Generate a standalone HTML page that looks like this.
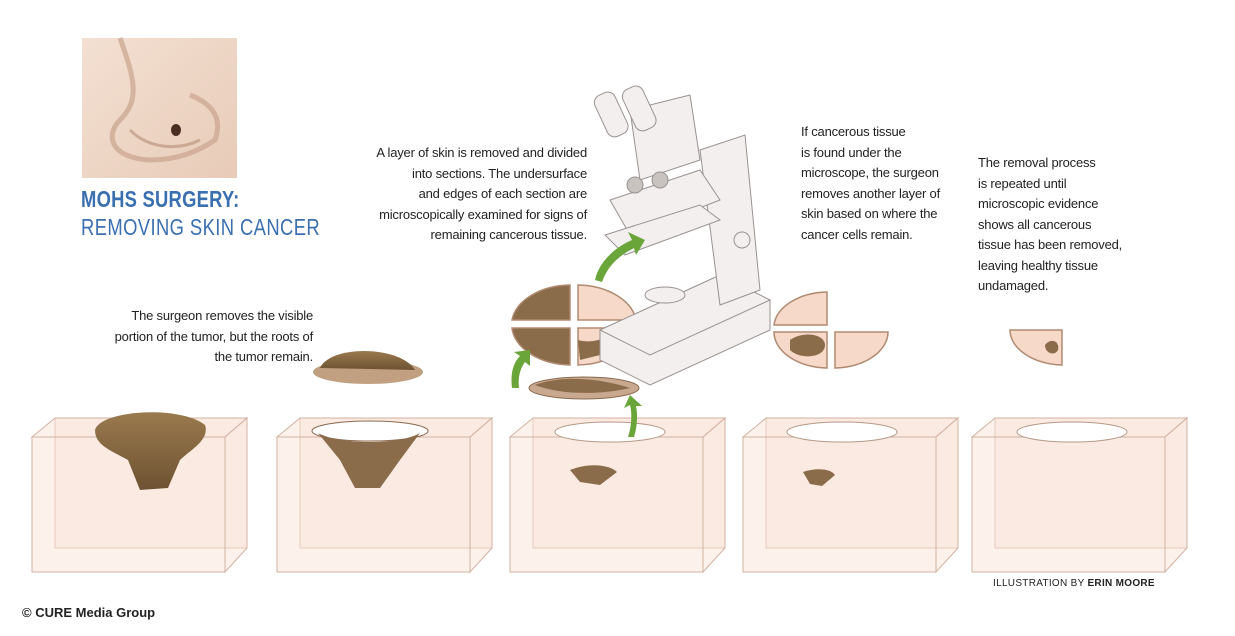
<!DOCTYPE html>
<html><head><meta charset="utf-8"><style>
body{margin:0;width:1235px;height:636px;background:#fff;position:relative;overflow:hidden;font-family:"Liberation Sans",sans-serif;}
.t{position:absolute;font-size:13px;line-height:20.5px;color:#222;letter-spacing:-0.2px;}
.r{text-align:right;}
</style></head><body>
<svg width="1235" height="636" style="position:absolute;left:0;top:0">
<defs>
<linearGradient id="nose" x1="0" y1="0" x2="1" y2="1"><stop offset="0" stop-color="#f3e0d2"/><stop offset="1" stop-color="#e8cbb8"/></linearGradient>
<linearGradient id="tum" x1="0" y1="0" x2="0" y2="1"><stop offset="0" stop-color="#9a7a4e"/><stop offset="1" stop-color="#6e5232"/></linearGradient>
</defs>
<rect x="82" y="38" width="155" height="140" fill="url(#nose)"/>
<path d="M120 38 C135 80 140 100 120 120 C105 135 110 158 150 160 C180 160 200 150 215 140 C222 120 215 105 190 95" fill="none" stroke="#c9a48d" stroke-width="5" opacity=".7"/>
<path d="M130 130 C150 150 180 150 200 140" fill="none" stroke="#b48c75" stroke-width="3" opacity=".6"/>
<ellipse cx="176" cy="130" rx="5" ry="6" fill="#4a2e22"/>
<g fill="#f9e4d8" fill-opacity=".5" stroke="#d2b2a2" stroke-width="1">
<g><polygon points="55,418 247,418 247,548 55,548"/><polygon points="32,437 225,437 247,418 55,418"/><polygon points="32,437 225,437 225,572 32,572"/><polygon points="225,437 247,418 247,548 225,572"/></g>
<g transform="translate(245,0)"><polygon points="55,418 247,418 247,548 55,548"/><polygon points="32,437 225,437 247,418 55,418"/><polygon points="32,437 225,437 225,572 32,572"/><polygon points="225,437 247,418 247,548 225,572"/></g>
<g transform="translate(478,0)"><polygon points="55,418 247,418 247,548 55,548"/><polygon points="32,437 225,437 247,418 55,418"/><polygon points="32,437 225,437 225,572 32,572"/><polygon points="225,437 247,418 247,548 225,572"/></g>
<g transform="translate(711,0)"><polygon points="55,418 247,418 247,548 55,548"/><polygon points="32,437 225,437 247,418 55,418"/><polygon points="32,437 225,437 225,572 32,572"/><polygon points="225,437 247,418 247,548 225,572"/></g>
<g transform="translate(940,0)"><polygon points="55,418 247,418 247,548 55,548"/><polygon points="32,437 225,437 247,418 55,418"/><polygon points="32,437 225,437 225,572 32,572"/><polygon points="225,437 247,418 247,548 225,572"/></g>
</g>
<path d="M95 430 C100 410 180 405 205 425 C210 440 190 450 180 460 L168 488 L140 490 L128 460 C110 450 95 445 95 430Z" fill="url(#tum)"/>
<ellipse cx="370" cy="431" rx="58" ry="10" fill="#fff" stroke="#8a6a50"/>
<path d="M318 433 C340 445 400 445 420 433 L400 460 L380 488 L355 488 L340 460Z" fill="#8a6c4a"/>
<ellipse cx="368" cy="372" rx="55" ry="12" fill="#c0a080"/>
<path d="M320 368 C330 345 400 345 415 370Z" fill="url(#tum)"/>
<ellipse cx="610" cy="432" rx="55" ry="10" fill="#fff" stroke="#b59a88"/>
<path d="M570 470 C590 462 610 465 617 472 L600 485 L580 482Z" fill="#8a6c4a"/>
<ellipse cx="842" cy="432" rx="55" ry="10" fill="#fff" stroke="#b59a88"/>
<path d="M803 472 C815 468 830 468 835 475 L822 486 L810 484Z" fill="#8a6c4a"/>
<ellipse cx="1072" cy="432" rx="55" ry="10" fill="#fff" stroke="#b59a88"/>
<ellipse cx="584" cy="388" rx="55" ry="11" fill="#c9a890" stroke="#8a6a50"/>
<path d="M535 385 C560 375 600 378 630 388 C600 395 560 395 535 385Z" fill="#8a6c4a"/>
<g stroke="#b08a70" stroke-width="1.5">
<path d="M570 285 A60 40 0 0 0 512 320 L570 320Z" fill="#8a6c4a"/>
<path d="M578 285 A60 40 0 0 1 636 320 L578 320Z" fill="#f6d9c9"/>
<path d="M512 328 A60 40 0 0 0 570 365 L570 328Z" fill="#8a6c4a"/>
<path d="M578 328 L578 365 A60 40 0 0 0 636 328Z" fill="#f6d9c9"/>
<path d="M578 340 C595 345 610 335 620 332 L600 355 L580 360Z" fill="#8a6c4a" stroke="none"/>
</g>
<g fill="#f2efee" stroke="#9a9290" stroke-width="1">
<polygon points="600,330 720,275 770,300 770,330 650,385 600,360"/>
<polygon points="600,330 720,275 770,300 650,355"/>
<polygon points="700,150 745,135 760,290 720,305"/>
<polygon points="610,200 700,170 720,200 630,235"/>
<polygon points="630,110 690,95 700,160 640,180"/>
<rect x="600" y="92" width="22" height="45" rx="8" transform="rotate(-25 611 114)"/>
<rect x="628" y="86" width="22" height="45" rx="8" transform="rotate(-25 639 108)"/>
<polygon points="605,235 700,205 720,220 625,255"/>
<ellipse cx="665" cy="295" rx="20" ry="8"/>
<circle cx="742" cy="240" r="8"/>
<circle cx="635" cy="185" r="8" fill="#c9c3c0"/>
<circle cx="660" cy="180" r="8" fill="#c9c3c0"/>
</g>
<g stroke="#b08a70" stroke-width="1.5" fill="#f6d9c9">
<path d="M827 292 A55 36 0 0 0 774 325 L827 325Z"/>
<path d="M774 332 A55 36 0 0 0 827 368 L827 332Z"/>
<path d="M835 332 L835 368 A55 36 0 0 0 888 332Z"/>
<path d="M1062 330 L1062 365 A55 35 0 0 1 1010 330Z"/>
</g>
<path d="M790 340 C805 330 825 335 825 345 C825 358 800 360 790 350Z" fill="#8a6c4a"/>
<path d="M1045 345 C1050 338 1060 340 1058 350 C1055 356 1045 354 1045 345Z" fill="#8a6c4a"/>
<g fill="#6aa539">
<path d="M595 280 C600 258 620 245 632 240 L628 232 L645 240 L636 255 L634 248 C620 255 608 265 602 282Z"/>
<path d="M512 388 C510 372 514 362 520 356 L514 352 L530 350 L530 366 L525 362 C519 370 518 380 519 388Z"/>
<path d="M628 437 C632 425 632 412 630 405 L624 408 L630 395 L642 406 L636 406 C638 415 637 428 634 437Z"/>
</g>
</svg>
<div style="position:absolute;left:81px;top:186px;color:#3a6fb0;font-size:23px;font-weight:bold;letter-spacing:0.3px;transform:scaleX(.8);transform-origin:left">MOHS SURGERY:</div>
<div style="position:absolute;left:81px;top:214px;color:#3a6fb0;font-size:23px;letter-spacing:0.5px;transform:scaleX(.8);transform-origin:left">REMOVING SKIN CANCER</div>
<div class="t r" style="right:922px;top:306px">The surgeon removes the visible<br>portion of the tumor, but the roots of<br>the tumor remain.</div>
<div class="t r" style="right:648px;top:143px">A layer of skin is removed and divided<br>into sections. The undersurface<br>and edges of each section are<br>microscopically examined for signs of<br>remaining cancerous tissue.</div>
<div class="t" style="left:801px;top:122px">If cancerous tissue<br>is found under the<br>microscope, the surgeon<br>removes another layer of<br>skin based on where the<br>cancer cells remain.</div>
<div class="t" style="left:978px;top:153px">The removal process<br>is repeated until<br>microscopic evidence<br>shows all cancerous<br>tissue has been removed,<br>leaving healthy tissue<br>undamaged.</div>
<div style="position:absolute;left:993px;top:578px;font-size:10px;color:#222;letter-spacing:.3px">ILLUSTRATION BY <b>ERIN MOORE</b></div>
<div style="position:absolute;left:22px;top:605px;font-size:13px;font-weight:bold;color:#222">© CURE Media Group</div>
</body></html>
